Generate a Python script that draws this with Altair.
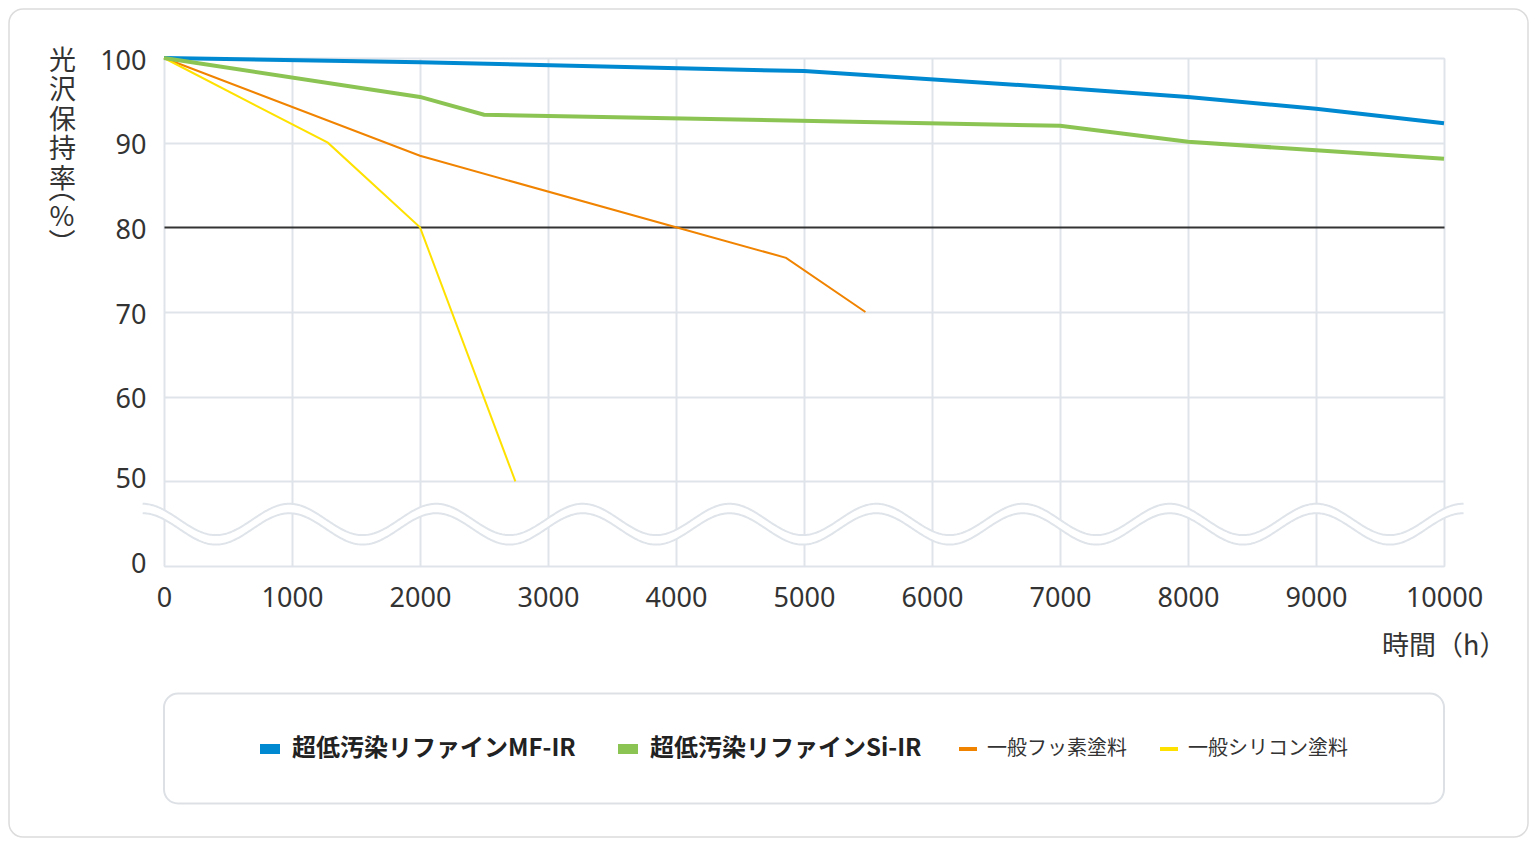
import altair as alt
import pandas as pd

JP = "Noto Sans CJK JP"
NUM = "Noto Sans"

# ---- data -------------------------------------------------------------
names_a = ["超低汚染リファインMF-IR", "超低汚染リファインSi-IR"]
names_b = ["一般フッ素塗料", "一般シリコン塗料"]

mf_hours = [0, 2000, 5000, 7000, 8000, 9000, 10000]
mf_values = [100, 99.5, 98.45, 96.5, 95.4, 94.0, 92.3]

si_hours = [0, 2000, 2500, 7000, 8000, 9000, 10000]
si_values = [100, 95.4, 93.3, 92.0, 90.1, 89.1, 88.1]

fl_hours = [0, 2000, 4000, 4860, 5480]
fl_values = [100, 88.45, 80, 76.4, 70]

sc_hours = [0, 1280, 2000, 2745]
sc_values = [100, 90, 80, 50]

x_ticks = list(range(0, 10001, 1000))
y_ticks = [40, 50, 60, 70, 80, 90, 100]   # 40 is drawn as "0" (broken axis)

y_title_chars = ["光", "沢", "保", "持", "率"]
y_title_unit = ["︵", "%", "︶"]

colors_a = ["#0089d0", "#8cc453"]
colors_b = ["#f08300", "#ffe100"]

GRID = "#dfe4ea"

df_a = pd.DataFrame({
    "series": [names_a[0]] * len(mf_hours) + [names_a[1]] * len(si_hours),
    "h": mf_hours + si_hours,
    "v": mf_values + si_values,
})
df_b = pd.DataFrame({
    "series": [names_b[0]] * len(fl_hours) + [names_b[1]] * len(sc_hours),
    "h": fl_hours + sc_hours,
    "v": fl_values + sc_values,
})

# ---- axes ---------------------------------------------------------------
x_axis = alt.Axis(
    values=x_ticks, format="d", labelFont=NUM, labelFontSize=27, labelColor="#333333",
    labelPadding=19, labelFlush=False, labelOverlap=False, ticks=False, domain=False,
    grid=True, gridColor=GRID, gridWidth=2,
    title="時間（h）", titleFont=JP, titleFontSize=27, titleFontWeight="normal",
    titleColor="#333333", titleAlign="right", titleBaseline="middle", titleAngle=0,
    titleX=1342, titleY=80,
)
y_axis = alt.Axis(
    values=y_ticks, format="d", labelExpr="datum.value === 40 ? '0' : datum.label",
    labelFont=NUM, labelFontSize=27, labelColor="#333333", labelPadding=18,
    labelOffset={"condition": {"test": "datum.value <= 50", "value": -2}, "value": 3},
    ticks=False, domain=False, grid=True, gridWidth=2,
    gridColor={"condition": {"test": "datum.value === 80", "value": "#333333"}, "value": GRID},
    title=y_title_chars, titleFont=JP, titleFontSize=27,
    titleFontWeight="normal", titleColor="#333333", titleAngle=0, titleAlign="center",
    titleBaseline="top", titleLineHeight=29.5, titleX=-102, titleY=-10,
)
x_scale = alt.Scale(domain=[0, 10000], nice=False)
y_scale = alt.Scale(domain=[40, 100], nice=False, zero=False)

X = alt.X("h:Q", scale=x_scale, axis=x_axis)
Y = alt.Y("v:Q", scale=y_scale, axis=y_axis)

# ---- decorations --------------------------------------------------------
one = alt.Data(values=[{}])
frame = alt.Chart(one).mark_rect(
    fill="white", fillOpacity=0, stroke="#dcdcdc", strokeWidth=1.5, cornerRadius=14
).encode(x=alt.value(-155), x2=alt.value(1364), y=alt.value(-49), y2=alt.value(779))

legend_box = alt.Chart(one).mark_rect(
    fill="white", fillOpacity=0, stroke="#dde1e6", strokeWidth=2, cornerRadius=14
).encode(x=alt.value(0), x2=alt.value(1280), y=alt.value(635.5), y2=alt.value(745.5))

# rest of the vertical y-axis title: the unit in vertical presentation forms
unit_title = alt.Chart(one).mark_text(
    text=y_title_unit, font=JP, fontSize=27, lineHeight=27, baseline="top",
    align="center", color="#333333"
).encode(x=alt.value(-102), y=alt.value(120))

wave = alt.Chart(alt.sequence(-167, 10160, 10, as_="h")).transform_calculate(
    v="45.5 + 1.85 * cos(2 * PI * (datum.h - 979) / 1146.3)"
).transform_calculate(l="datum.v - 1.12")

wave_fill = wave.mark_area(fill="white", opacity=1, orient="vertical").encode(
    x=X, y=Y, y2="l:Q")
wave_up = wave.mark_line(stroke=GRID, strokeWidth=2).encode(x=X, y=Y)
wave_lo = wave.mark_line(stroke=GRID, strokeWidth=2).encode(
    x=X, y=alt.Y("l:Q", scale=y_scale, axis=y_axis))

# ---- series -------------------------------------------------------------
lines_b = alt.Chart(df_b).mark_line().encode(
    x=X, y=Y,
    strokeWidth=alt.value(2),
    color=alt.Color("series:N", scale=alt.Scale(domain=names_b, range=colors_b),
                    legend=alt.Legend(
                        orient="none", legendX=793, legendY=680, direction="horizontal",
                        title=None, labelFont=JP, labelFontSize=20, labelFontWeight="normal",
                        labelColor="#333333", symbolType="stroke", symbolStrokeWidth=4,
                        symbolSize=324, labelOffset=8, columnPadding=25, padding=0,
                        labelLimit=400)),
)
lines_a = alt.Chart(df_a).mark_line().encode(
    x=X, y=Y,
    strokeWidth=alt.value(4),
    color=alt.Color("series:N", scale=alt.Scale(domain=names_a, range=colors_a),
                    legend=alt.Legend(
                        orient="none", legendX=91, legendY=676, direction="horizontal",
                        title=None, labelFont=JP, labelFontSize=24, labelFontWeight="bold",
                        labelColor="#222222", symbolType="stroke", symbolStrokeWidth=10,
                        symbolSize=400, labelOffset=7, columnPadding=22, padding=0,
                        labelLimit=500)),
)

chart = alt.layer(
    frame, legend_box, unit_title, wave_fill, wave_up, wave_lo, lines_b, lines_a
).resolve_scale(color="independent").properties(
    width=1280, height=508,
    padding={"left": 156, "top": 50, "right": 85, "bottom": 272},
    autosize=alt.AutoSizeParams(type="none"),
).configure_view(stroke=None).configure(background="white")

chart.save("out.html", embed_options={"renderer": "svg", "actions": False})
